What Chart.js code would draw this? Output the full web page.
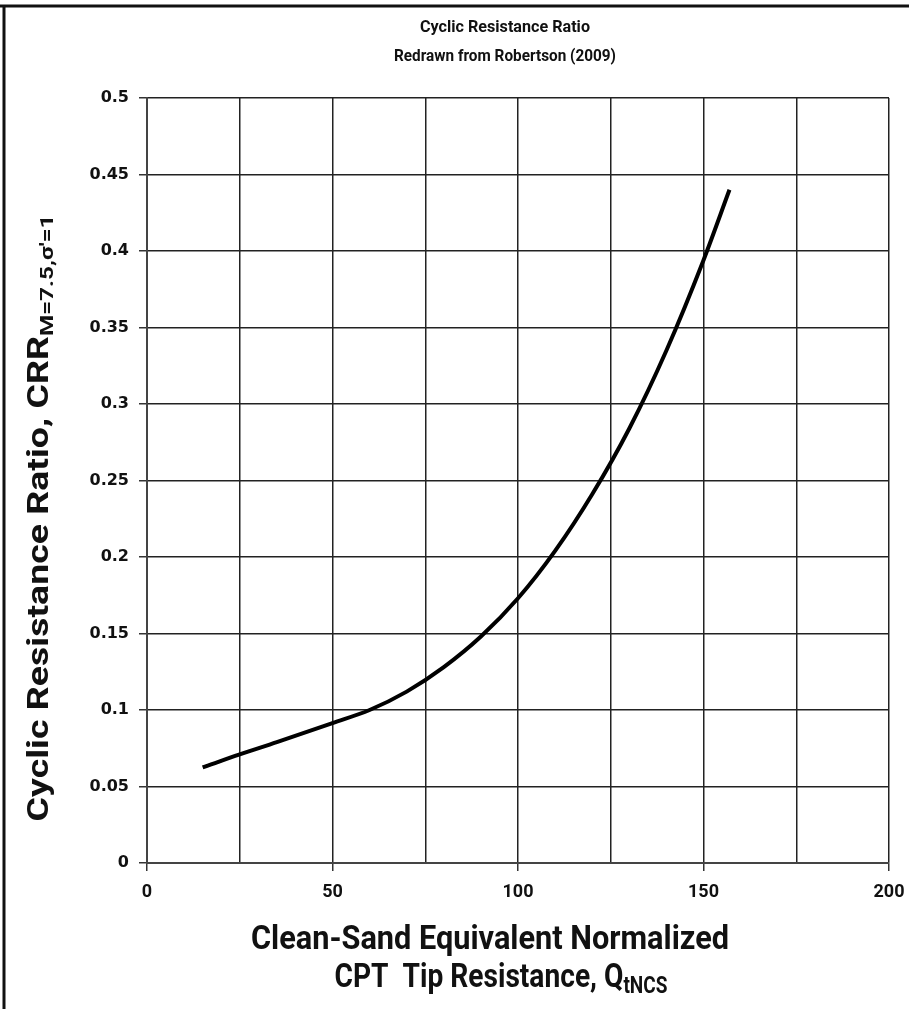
<!DOCTYPE html>
<html>
<head>
<meta charset="utf-8">
<script src="https://cdn.jsdelivr.net/npm/chart.js@4.4.1/dist/chart.umd.min.js"></script>
<style>
html,body{margin:0;padding:0;background:#fff;}
#wrap{width:909px;height:1009px;position:relative;}
</style>
</head>
<body>
<div id="wrap"><canvas id="c" width="909" height="1009"></canvas></div>
<script>
// Data
const qtncs = [15, 25, 35, 50, 60, 70, 80, 90, 100, 110, 120, 130, 140, 150, 157];
const crr   = [0.0625, 0.071, 0.079, 0.0915, 0.100, 0.112, 0.128, 0.148, 0.173, 0.204, 0.241, 0.284, 0.335, 0.394, 0.440];
const xTickLabels = [0, 50, 100, 150, 200];
const yTickLabels = [0, 0.05, 0.1, 0.15, 0.2, 0.25, 0.3, 0.35, 0.4, 0.45, 0.5];
const titleLines = ["Cyclic Resistance Ratio", "Redrawn from Robertson (2009)"];
const xTitleLines = ["Clean-Sand Equivalent Normalized", "CPT  Tip Resistance, Q"];
const xTitleSub = "tNCS";
const yTitleMain = "Cyclic Resistance Ratio, CRR";
const yTitleSub = "M=7.5,\u03c3'=1";

const FONT = "Roboto, 'Liberation Sans', sans-serif";

const points = qtncs.map((q, i) => ({x: q, y: crr[i]}));

// draws main text + optional subscript, centred at (cx, cy), squeezed/stretched to total length len
function drawFitted(ctx, main, sub, cx, cy, len, mainSize, subSize, subDrop, thick) {
  ctx.save();
  ctx.font = "bold " + mainSize + "px " + FONT;
  const mw = ctx.measureText(main).width;
  let sw = 0;
  if (sub) { ctx.font = "bold " + subSize + "px " + FONT; sw = ctx.measureText(sub).width; }
  const total = mw + sw;
  const sx = len / total;
  ctx.translate(cx, cy);
  ctx.scale(sx, thick);
  ctx.textAlign = 'left';
  ctx.textBaseline = 'middle';
  ctx.font = "bold " + mainSize + "px " + FONT;
  ctx.fillText(main, -total / 2, 0);
  if (sub) {
    ctx.font = "bold " + subSize + "px " + FONT;
    ctx.fillText(sub, -total / 2 + mw, subDrop);
  }
  ctx.restore();
}

const decor = {
  id: 'decor',
  afterDraw(chart) {
    const ctx = chart.ctx;
    ctx.save();
    // frame lines (top and left)
    ctx.strokeStyle = '#111';
    ctx.lineWidth = 3;
    ctx.beginPath();
    ctx.moveTo(0, 6); ctx.lineTo(909, 6);
    ctx.moveTo(4, 6); ctx.lineTo(4, 1009);
    ctx.stroke();
    ctx.fillStyle = '#111';

    // main title
    drawFitted(ctx, titleLines[0], null, 505, 28, 170, 17, 0, 0, 1);
    drawFitted(ctx, titleLines[1], null, 505, 57, 222, 17, 0, 0, 1);

    // x axis title
    drawFitted(ctx, xTitleLines[0], null, 490, 940, 478, 34, 0, 0, 1);
    drawFitted(ctx, xTitleLines[1], xTitleSub, 501, 978, 333, 34, 23, 9, 1);

    // y axis title rotated
    ctx.save();
    ctx.translate(41, 518);
    ctx.rotate(-Math.PI / 2);
    drawFitted(ctx, yTitleMain, yTitleSub, 0, 0, 607, 34, 22, 9, 0.85);
    ctx.restore();
    ctx.restore();
  }
};

new Chart(document.getElementById('c'), {
  type: 'scatter',
  data: {
    datasets: [{
      data: points,
      showLine: true,
      borderColor: '#000',
      borderWidth: 4,
      pointRadius: 0,
      cubicInterpolationMode: 'monotone',
      fill: false
    }]
  },
  options: {
    responsive: false,
    animation: false,
    devicePixelRatio: 1,
    layout: { padding: { left: 0, right: 20, top: 98, bottom: 0 } },
    plugins: { legend: { display: false }, tooltip: { enabled: false }, title: { display: false } },
    scales: {
      x: {
        type: 'linear', min: 0, max: 200,
        afterFit(s) { s.height = 146; s.paddingRight = 0; s.paddingLeft = 0; },
        ticks: {
          stepSize: 25,
          padding: 11,
          color: '#111',
          font: { family: FONT, size: 18, weight: 'bold' },
          maxRotation: 0,
          autoSkip: false,
          callback: (v) => xTickLabels.includes(v) ? String(v) : ''
        },
        grid: {
          color: '#222',
          lineWidth: 1.5,
          tickLength: 8,
          tickColor: (ctx) => (ctx.tick && xTickLabels.includes(ctx.tick.value)) ? '#333' : 'rgba(0,0,0,0)'
        },
        border: { color: '#444', width: 2 }
      },
      y: {
        type: 'linear', min: 0, max: 0.5,
        afterFit(s) { s.width = 147; s.paddingTop = 0; s.paddingBottom = 0; },
        ticks: {
          stepSize: 0.05,
          padding: 10,
          color: '#111',
          font: { family: "'DejaVu Sans', Verdana, sans-serif", size: 16, weight: 'bold' },
          callback: (v) => {
            const m = yTickLabels.find(t => Math.abs(t - v) < 1e-9);
            return m === undefined ? '' : String(m);
          }
        },
        grid: { color: '#222', lineWidth: 1.5, tickLength: 8, tickColor: '#333' },
        border: { color: '#444', width: 2 }
      }
    }
  },
  plugins: [decor]
});
</script>
</body>
</html>
